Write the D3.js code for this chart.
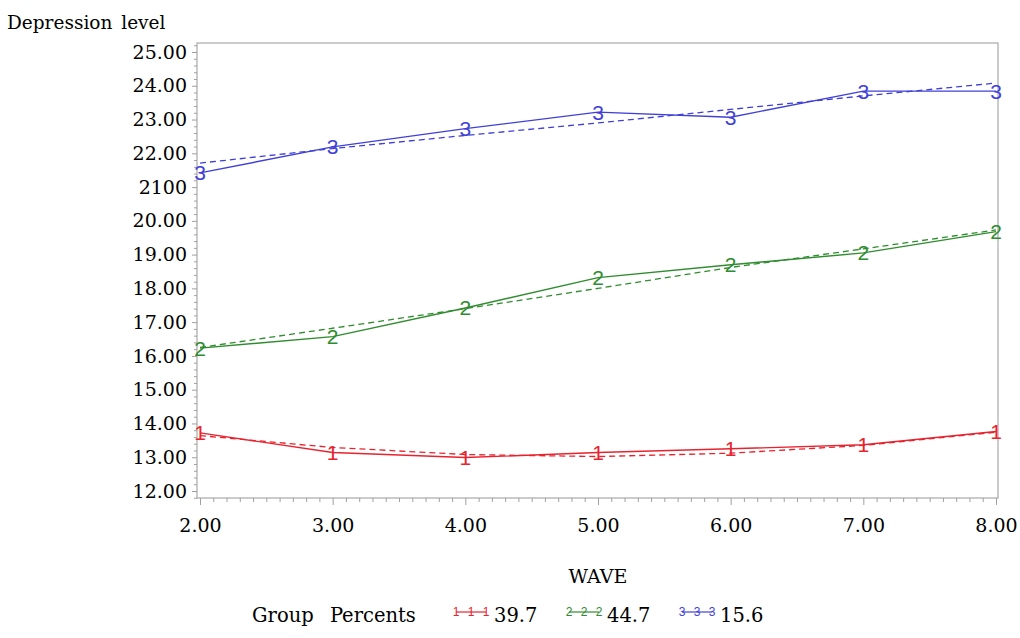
<!DOCTYPE html>
<html>
<head>
<meta charset="utf-8">
<script src="https://cdn.jsdelivr.net/npm/d3@7"></script>
<style>
  html, body { margin: 0; padding: 0; background: #fff; }
  svg { display: block; }
</style>
</head>
<body>
<svg id="chart" width="1020" height="638"></svg>
<script>
// ---------------- data ----------------
const waves = [2, 3, 4, 5, 6, 7, 8];
const group1 = [13.72, 13.14, 12.99, 13.14, 13.25, 13.37, 13.76];
const group1Fit = [13.64, 13.29, 13.08, 13.02, 13.12, 13.35, 13.74];
const group2 = [16.23, 16.57, 17.42, 18.32, 18.70, 19.05, 19.68];
const group2Fit = [16.25, 16.82, 17.40, 18.00, 18.62, 19.17, 19.73];
const group3 = [21.42, 22.19, 22.73, 23.22, 23.07, 23.84, 23.84];
const group3Fit = [21.71, 22.14, 22.53, 22.90, 23.30, 23.70, 24.08];
const groupIds = ["1", "2", "3"];
const groupPercents = ["39.7", "44.7", "15.6"];
const yTicks = [12, 13, 14, 15, 16, 17, 18, 19, 20, 21, 22, 23, 24, 25];
const yTickLabels = ["12.00", "13.00", "14.00", "15.00", "16.00", "17.00", "18.00",
                     "19.00", "20.00", "2100", "22.00", "23.00", "24.00", "25.00"];
const xTicks = [2, 3, 4, 5, 6, 7, 8];
const xTickLabels = ["2.00", "3.00", "4.00", "5.00", "6.00", "7.00", "8.00"];
const yTitle = "Depression level";
const xTitle = "WAVE";
const legendTitle = "Group Percents";

// ---------------- layout ----------------
const colors = ["#e8232e", "#2f8c2f", "#4040d8"];
const frame = { left: 197, right: 998, top: 43, bottom: 498 };
const serif = "'DejaVu Serif', serif";
const markFont = "'Liberation Sans', Arial, sans-serif";

const svg = d3.select("#chart");
const x = d3.scaleLinear().domain([2, 8]).range([200, 996]);
const y = d3.scaleLinear().domain([12, 25]).range([491, 52]);

// frame
svg.append("rect")
  .attr("x", frame.left).attr("y", frame.top)
  .attr("width", frame.right - frame.left).attr("height", frame.bottom - frame.top)
  .attr("fill", "none").attr("stroke", "#a9a9a9").attr("stroke-width", 1.2);

// y axis
const yMinor = d3.range(11.8, 25.3, 0.2).map(v => +v.toFixed(1)).filter(v => !yTicks.includes(v));
const gyMinor = svg.append("g").attr("transform", `translate(${frame.left},0)`)
  .call(d3.axisLeft(y).tickValues(yMinor).tickSize(3).tickFormat(""));
const gy = svg.append("g").attr("transform", `translate(${frame.left},0)`)
  .call(d3.axisLeft(y).tickValues(yTicks).tickSize(5).tickPadding(5)
        .tickFormat((d, i) => yTickLabels[i]));
[gy, gyMinor].forEach(g => {
  g.select(".domain").remove();
  g.selectAll(".tick line").attr("stroke", "#a0a0a0");
});
gy.selectAll(".tick text").attr("font-family", serif).attr("font-size", 19).attr("fill", "#000");

// x axis
const xMinor = d3.range(2, 8.001, 0.1).map(v => +v.toFixed(1)).filter(v => !xTicks.includes(v));
const gxMinor = svg.append("g").attr("transform", `translate(0,${frame.bottom})`)
  .call(d3.axisBottom(x).tickValues(xMinor).tickSize(4).tickFormat(""));
const gx = svg.append("g").attr("transform", `translate(0,${frame.bottom})`)
  .call(d3.axisBottom(x).tickValues(xTicks).tickSize(7).tickPadding(14)
        .tickFormat((d, i) => xTickLabels[i]));
[gx, gxMinor].forEach(g => {
  g.select(".domain").remove();
  g.selectAll(".tick line").attr("stroke", "#a0a0a0");
});
gx.selectAll(".tick text").attr("font-family", serif).attr("font-size", 19).attr("fill", "#000");

// titles
svg.append("text").attr("x", 7).attr("y", 29)
  .attr("font-family", serif).attr("font-size", 18.5).attr("word-spacing", 3)
  .attr("fill", "#000").text(yTitle);
svg.append("text").attr("x", x(5)).attr("y", 583).attr("text-anchor", "middle")
  .attr("font-family", serif).attr("font-size", 19).attr("fill", "#000").text(xTitle);

// series
const series = [
  { id: groupIds[0], vals: group1, fit: group1Fit, color: colors[0] },
  { id: groupIds[1], vals: group2, fit: group2Fit, color: colors[1] },
  { id: groupIds[2], vals: group3, fit: group3Fit, color: colors[2] }
];
const line = d3.line().x(d => x(d[0])).y(d => y(d[1]));

series.forEach(s => {
  svg.append("path").datum(waves.map((w, i) => [w, s.fit[i]]))
    .attr("d", line).attr("fill", "none").attr("stroke", s.color)
    .attr("stroke-width", 1.3).attr("stroke-dasharray", "6,4");
  svg.append("path").datum(waves.map((w, i) => [w, s.vals[i]]))
    .attr("d", line).attr("fill", "none").attr("stroke", s.color)
    .attr("stroke-width", 1.4);
  svg.selectAll(null).data(waves.map((w, i) => [w, s.vals[i]])).enter()
    .append("text")
    .attr("x", d => x(d[0])).attr("y", d => y(d[1]))
    .attr("text-anchor", "middle").attr("dominant-baseline", "central")
    .attr("font-family", markFont).attr("font-size", 21).attr("fill", s.color)
    .text(s.id);
});

// legend
svg.append("text").attr("x", 252).attr("y", 622)
  .attr("font-family", serif).attr("font-size", 19.5).attr("word-spacing", 10)
  .attr("fill", "#000").text(legendTitle);
series.forEach((s, i) => {
  const lx = 456 + i * 113;
  const g = svg.append("g");
  g.append("line").attr("x1", lx).attr("x2", lx + 30).attr("y1", 612).attr("y2", 612)
    .attr("stroke", s.color).attr("stroke-width", 1.2);
  [0, 15, 30].forEach(dx => {
    g.append("text").attr("x", lx + dx).attr("y", 612)
      .attr("text-anchor", "middle").attr("dominant-baseline", "central")
      .attr("font-family", markFont).attr("font-size", 12).attr("fill", s.color).text(s.id);
  });
  g.append("text").attr("x", lx + 38).attr("y", 622)
    .attr("font-family", serif).attr("font-size", 19.5).attr("fill", "#000").text(groupPercents[i]);
});
</script>
</body>
</html>
